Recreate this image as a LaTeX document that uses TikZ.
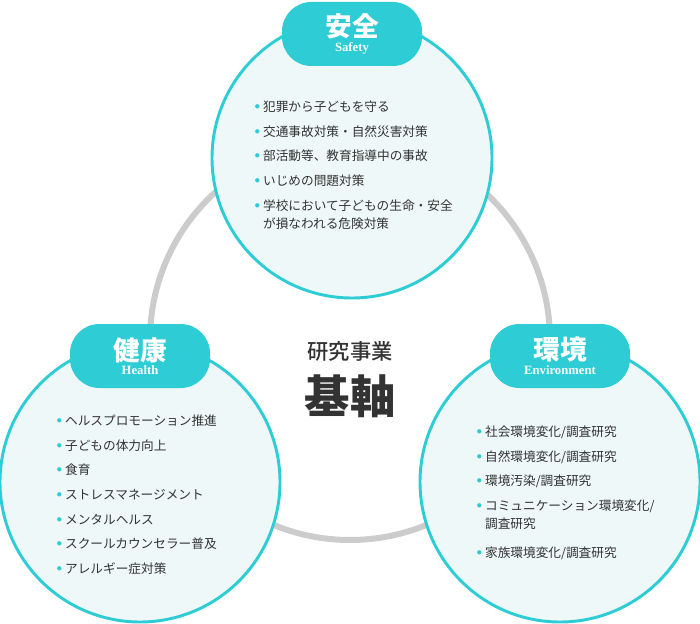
\documentclass[tikz,border=0pt]{standalone}
\usepackage{fontspec}
\setmainfont{Noto Sans CJK JP}
\newfontfamily\cjkmed{Noto Sans CJK JP Medium}
\newfontfamily\serifen{Liberation Serif}
\usetikzlibrary{positioning}
\definecolor{teal1}{HTML}{2ECCD4}
\definecolor{pale}{HTML}{EEF8F8}
\definecolor{ink}{HTML}{333333}
\newcommand{\bul}{\textcolor{teal1}{\raisebox{1.5pt}{\scalebox{0.9}{$\bullet$}}}\ }
\tikzset{
  area/.style={circle, draw=teal1, line width=2.2pt, fill=pale, minimum size=280*0.75pt},
  tab/.style={rounded corners=22pt, fill=teal1, text=white, minimum width=140*0.75pt, minimum height=64*0.75pt, align=center, inner sep=0pt},
  items/.style={text=ink, font=\fontsize{9.5}{18.5}\selectfont, align=left, anchor=north west}
}
\newcommand{\tabtext}[2]{{\fontsize{20}{22}\selectfont\bfseries #1}\\[-1pt]{\serifen\bfseries\fontsize{9.5}{10}\selectfont #2}}
\begin{document}
\begin{tikzpicture}[x=0.75pt, y=-0.75pt]
\useasboundingbox (0,0) rectangle (700,624);
\draw[black!20, line width=4.5pt] (350,340) circle (200*0.75pt);

\node[area] (top) at (352,158) {};
\node[area] (left) at (140,482) {};
\node[area] (right) at (560,482) {};

\node[tab] (ttop) at (352,34) {\tabtext{安全}{Safety}};
\node[tab] (tleft) at (140,356) {\tabtext{健康}{Health}};
\node[tab] (tright) at (560,356) {\tabtext{環境}{Environment}};

\node[items] (ltop) at (250,96) {\bul 犯罪から子どもを守る\\ \bul 交通事故対策・自然災害対策\\ \bul 部活動等、教育指導中の事故\\ \bul いじめの問題対策\\ \bul 学校において子どもの生命・安全\\[-5pt] \hphantom{\bul}が損なわれる危険対策};
\node[items] (lleft) at (52,410) {\bul ヘルスプロモーション推進\\ \bul 子どもの体力向上\\ \bul 食育\\ \bul ストレスマネージメント\\ \bul メンタルヘルス\\ \bul スクールカウンセラー普及\\ \bul アレルギー症対策};
\node[items] (lright) at (472,421) {\bul 社会環境変化/調査研究\\ \bul 自然環境変化/調査研究\\ \bul 環境汚染/調査研究\\ \bul コミュニケーション環境変化/\\[-5pt] \hphantom{\bul}調査研究\\[3pt] \bul 家族環境変化/調査研究};

\node[text=ink, font=\cjkmed\fontsize{16}{18}\selectfont] (core) at (350,351) {研究事業};
\node[text=ink, font=\fontsize{34}{38}\selectfont\bfseries] (axis) at (350,396) {基軸};
\end{tikzpicture}
\end{document}
